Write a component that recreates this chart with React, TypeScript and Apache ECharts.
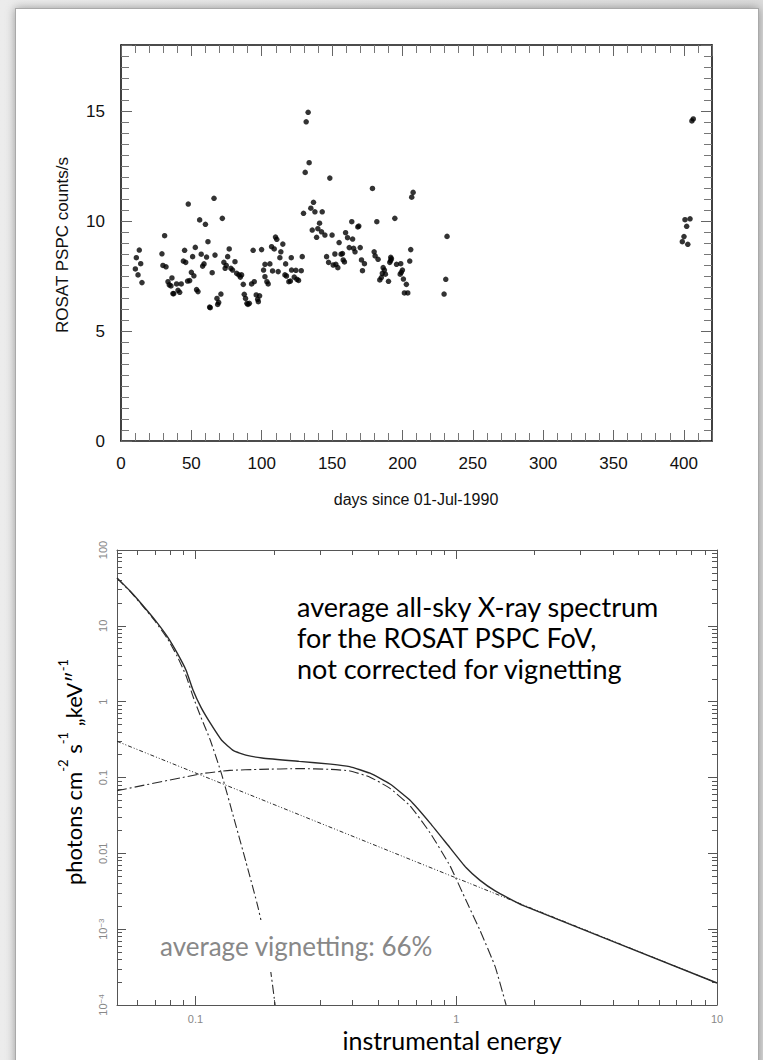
import React, { useEffect, useRef } from "react";
import * as echarts from "echarts";

// ROSAT PSPC light curve: day number since 01-Jul-1990 and count rate
const lcDays = [
  10.2, 10.9, 12.1, 13, 14, 14.9, 29.1, 29.8, 31, 32, 33.4, 34.3, 35.5, 36.2, 36.9, 37.5, 39.5, 40.5, 41.7, 42.8,
  44.3, 45.2, 46, 47.3, 47.8, 48.8, 50, 50.9, 51.8, 52.8, 53.7, 54.7, 55.9, 57, 58, 59, 60, 60.8, 61.8, 63,
  63.4, 64.8, 66.1, 66.8, 68.2, 68.7, 69.4, 71, 72, 73.1, 74, 74.8, 75.8, 76.9, 78.1, 79.3, 81, 82.2, 83.8, 84.8,
  85.7, 86.9, 87.6, 88.5, 89.5, 90.2, 91.2, 92.8, 93.9, 94.7, 96.1, 97.1, 97.6, 98.5, 99.9, 101.3, 102.3, 102.3, 103.7, 104.6,
  105.8, 107, 107.7, 108.9, 109.8, 110.7, 111.7, 112.9, 113.6, 115, 116.5, 117, 117.6, 119.3, 120.4, 121, 121.2, 123.1, 124.3, 125,
  126.2, 128.1, 128.8, 129.7, 130.9, 131.6, 133, 133.7, 134.9, 135.9, 136.8, 137.8, 139, 139.9, 141.1, 142.5, 143, 144.9, 146.1, 147.5,
  148.4, 150, 150.8, 152, 152.7, 154.1, 155, 156.4, 157.4, 157.9, 158.8, 159.6, 161, 162.2, 164, 164.6, 165.3, 166.3, 168.3, 169,
  170, 170.9, 171.6, 173, 178.7, 179.9, 180.6, 181.8, 182.7, 183.9, 185, 185.7, 186.3, 187.2, 187.9, 190.1, 191, 191.6, 191.7, 192.2,
  194.6, 195.8, 198.4, 198.8, 199.2, 200, 200.7, 201.4, 202.8, 203.8, 205.2, 205.9, 206.6, 207.6, 229.6, 230.8, 231.7, 398.9, 400.1, 400.8,
  402, 402.8, 404.4, 405.7, 406.7,
];
const lcRates = [
  7.82, 8.33, 7.55, 8.68, 8.06, 7.2, 8.51, 7.98, 9.33, 7.92, 7.24, 7.1, 7.05, 7.41, 6.7, 6.7, 7.14, 6.85, 6.76, 7.14,
  8.18, 8.67, 8.12, 7.27, 10.77, 7.29, 7.67, 8.38, 7.51, 8.8, 6.88, 6.79, 10.05, 8.49, 7.95, 8.05, 9.85, 8.36, 9.06, 6.09,
  6.06, 7.65, 11.03, 8.45, 6.48, 6.21, 6.3, 6.68, 10.12, 8.12, 7.85, 7.98, 8.38, 8.73, 7.85, 7.77, 8.15, 7.62, 7.55, 7.45,
  7.55, 7.12, 6.67, 6.48, 6.26, 6.21, 6.26, 7.14, 8.67, 7.24, 6.64, 6.44, 6.33, 6.6, 8.7, 7.77, 8.03, 7.47, 7.24, 7.14,
  8.05, 8.83, 7.73, 8.73, 9.27, 9.17, 7.7, 8.33, 8.6, 8.95, 7.55, 8.05, 7.5, 7.24, 7.27, 8.33, 7.77, 7.45, 7.76, 7.35,
  7.3, 7.74, 8.38, 10.35, 12.21, 14.51, 14.94, 12.65, 10.58, 9.59, 10.85, 10.42, 9.26, 9.65, 9.9, 9.51, 10.42, 9.36, 8.38, 8.12,
  11.95, 9.36, 8.0, 8.5, 8.03, 7.88, 9.02, 8.49, 8.52, 8.23, 8.14, 9.47, 9.24, 8.79, 9.97, 9.18, 8.76, 8.6, 9.73, 9.77,
  8.79, 8.23, 7.74, 8.06, 11.48, 8.6, 8.41, 9.97, 8.26, 7.32, 7.43, 7.62, 7.88, 7.77, 7.58, 7.26, 8.12, 8.2, 8.35, 8.28,
  10.12, 8.03, 7.58, 8.06, 7.67, 7.77, 7.36, 6.73, 7.12, 6.73, 8.18, 8.7, 11.08, 11.3, 6.68, 7.35, 9.3, 9.06, 9.29, 10.06,
  9.76, 8.94, 10.1, 14.55, 14.64,
];

// Spectrum components (energy in keV, flux in photons cm^-2 s^-1 keV^-1)
const softE = [0.05, 0.056, 0.062, 0.07, 0.078, 0.085, 0.092, 0.098, 0.105, 0.114, 0.126, 0.14, 0.156, 0.174, 0.191, 0.202];
const softF = [42.5, 28.6, 19.2, 11.5, 6.8, 4.0, 2.2, 1.15, 0.62, 0.31, 0.11, 0.03, 0.0078, 0.0019, 0.00042, 0.0001];

const humpE = [0.05, 0.107, 0.1356, 0.177, 0.252, 0.328, 0.391, 0.467, 0.557, 0.665, 0.794, 0.947, 1.09, 1.234, 1.41, 1.553];
const humpF = [0.067, 0.113, 0.124, 0.128, 0.131, 0.128, 0.122, 0.101, 0.0718, 0.0423, 0.0186, 0.0068, 0.0024, 0.00096, 0.00032, 0.0001];

const plawE = [0.05, 10];
const plawF = [0.3, 0.000195];

const totalE = [0.05, 0.056, 0.062, 0.07, 0.078, 0.085, 0.092, 0.098, 0.105, 0.114, 0.126, 0.14, 0.156, 0.18, 0.25, 0.33, 0.39, 0.467, 0.557, 0.665, 0.794, 0.947, 1.09, 1.234, 1.41, 1.8, 10];
const totalF = [42.9, 29.0, 19.6, 11.9, 7.2, 4.4, 2.6, 1.4, 0.84, 0.52, 0.31, 0.226, 0.197, 0.181, 0.163, 0.15, 0.139, 0.114, 0.082, 0.05, 0.025, 0.0118, 0.0065, 0.0044, 0.0032, 0.00206, 0.000195];

// Axis ticks and labels
const energyRange = [0.05, 10];
const fluxRange = [1e-4, 100];
const energyTicks = [0.1, 1, 10];
const energyLabels = ["0.1", "1", "10"];
const fluxTicks = [1e-4, 1e-3, 0.01, 0.1, 1, 10, 100];
const fluxLabels = ["10{s|−4}", "10{s|−3}", "0.01", "0.1", "1", "10", "100"];
const minorMultipliers = [2, 3, 4, 5, 6, 7, 8, 9];

const lg = (v: number) => Math.log10(v);

function minorLogTicks(lo: number, hi: number): number[] {
  const out: number[] = [];
  for (let n = Math.floor(lg(lo)) - 1; n <= Math.ceil(lg(hi)); n++) {
    for (const k of minorMultipliers) {
      const v = k * Math.pow(10, n);
      if (v > lo * 1.0001 && v < hi * 0.9999) out.push(lg(v));
    }
  }
  return out;
}

const TXT = "#111";
const SANS = '"Liberation Sans", Arial, sans-serif';
const CAL = 'Lato, "Open Sans", sans-serif';

export default function App() {
  const ref = useRef<HTMLDivElement>(null);

  useEffect(() => {
    if (!ref.current) return;
    const chart = echarts.init(ref.current, undefined, { renderer: "svg" });

    const lcAxisX = (position: "bottom" | "top", labels: boolean) => ({
      type: "value",
      gridIndex: 0,
      position,
      min: 0,
      max: 420,
      interval: 50,
      axisLine: { show: true, onZero: false, lineStyle: { color: "#111", width: 1.6 } },
      axisTick: { show: true, inside: true, length: 11, lineStyle: { color: "#666", width: 1 } },
      minorTick: { show: true, splitNumber: 5, length: 8, lineStyle: { color: "#777", width: 1 } },
      axisLabel: { show: labels, showMaxLabel: false, margin: 14, fontSize: 17, color: TXT, fontFamily: SANS },
      splitLine: { show: false },
      minorSplitLine: { show: false },
    });
    const lcAxisY = (position: "left" | "right", labels: boolean) => ({
      type: "value",
      gridIndex: 0,
      position,
      min: 0,
      max: 18,
      interval: 5,
      axisLine: { show: true, onZero: false, lineStyle: { color: "#111", width: 1.6 } },
      axisTick: { show: true, inside: true, length: 11, lineStyle: { color: "#666", width: 1 } },
      minorTick: { show: true, splitNumber: 10, length: 8, lineStyle: { color: "#777", width: 1 } },
      axisLabel: { show: labels, showMaxLabel: false, margin: 16, fontSize: 17, color: TXT, fontFamily: SANS },
      splitLine: { show: false },
      minorSplitLine: { show: false },
    });

    const eMin = lg(energyRange[0]);
    const eMax = lg(energyRange[1]);
    const fMin = lg(fluxRange[0]);
    const fMax = lg(fluxRange[1]);
    const eMajor = energyTicks.map(lg);
    const fMajor = fluxTicks.map(lg);
    const eMinor = minorLogTicks(energyRange[0], energyRange[1]);
    const fMinor = minorLogTicks(fluxRange[0], fluxRange[1]);
    const specLine = { color: "#555", width: 1 };

    const specAxisX = (position: "bottom" | "top", major: boolean, labels: boolean) => ({
      type: "value",
      gridIndex: 1,
      position,
      min: eMin,
      max: eMax,
      axisLine: { show: major, onZero: false, lineStyle: specLine },
      axisTick: {
        show: true,
        inside: true,
        length: major ? 9 : 5,
        customValues: major ? eMajor : eMinor,
        lineStyle: specLine,
      },
      axisLabel: {
        show: labels,
        customValues: eMajor,
        margin: 8,
        fontSize: 11,
        color: "#888",
        fontFamily: SANS,
        formatter: (v: number) => {
          const i = eMajor.findIndex((t) => Math.abs(t - v) < 1e-6);
          return i >= 0 ? energyLabels[i] : "";
        },
      },
      splitLine: { show: false },
    });
    const specAxisY = (position: "left" | "right", major: boolean, labels: boolean) => ({
      type: "value",
      gridIndex: 1,
      position,
      min: fMin,
      max: fMax,
      axisLine: { show: major, onZero: false, lineStyle: specLine },
      axisTick: {
        show: true,
        inside: true,
        length: major ? 9 : 5,
        customValues: major ? fMajor : fMinor,
        lineStyle: specLine,
      },
      axisLabel: {
        show: labels,
        customValues: fMajor,
        rotate: 90,
        margin: 9,
        fontSize: 11,
        color: "#888",
        fontFamily: SANS,
        formatter: (v: number) => {
          const i = fMajor.findIndex((t) => Math.abs(t - v) < 1e-6);
          return i >= 0 ? fluxLabels[i] : "";
        },
        rich: {
          s: { fontSize: 8, verticalAlign: "top", color: "#888", fontFamily: SANS },
        },
      },
      splitLine: { show: false },
    });

    const toLog = (E: number[], F: number[]) => E.map((e, i) => [lg(e), lg(F[i])]);
    const specSeries = (data: number[][], type: any, width: number, smooth: number | boolean) => ({
      type: "line",
      xAxisIndex: 2,
      yAxisIndex: 2,
      data,
      showSymbol: false,
      smooth,
      lineStyle: { color: "#2a2a2a", width, type },
      z: 3,
    });

    chart.setOption({
      animation: false,
      grid: [
        { left: 121, top: 45, width: 591, height: 396, outerBoundsMode: "none" },
        { left: 117, top: 550, width: 600, height: 455, outerBoundsMode: "none" },
      ],
      xAxis: [
        lcAxisX("bottom", true),
        lcAxisX("top", false),
        specAxisX("bottom", true, true),
        specAxisX("bottom", false, false),
        specAxisX("top", true, false),
        specAxisX("top", false, false),
      ],
      yAxis: [
        lcAxisY("left", true),
        lcAxisY("right", false),
        specAxisY("left", true, true),
        specAxisY("left", false, false),
        specAxisY("right", true, false),
        specAxisY("right", false, false),
      ],
      series: [
        {
          type: "scatter",
          xAxisIndex: 0,
          yAxisIndex: 0,
          data: lcDays.map((d, i) => [d, lcRates[i]]),
          symbol: "circle",
          symbolSize: 5.5,
          itemStyle: { color: "#000" },
        },
        specSeries(toLog(softE, softF), [9, 3, 2, 3], 1.1, 0.15),
        specSeries(toLog(humpE, humpF), [10, 3, 2, 3], 1.1, 0.15),
        specSeries(toLog(plawE, plawF), [4, 2, 1, 2, 1, 2], 1, false),
        specSeries(toLog(totalE, totalF), "solid", 1.4, 0.15),
      ],
      graphic: [
        {
          type: "text",
          x: 416,
          y: 499,
          style: { text: "days since 01-Jul-1990", font: `16px ${SANS}`, fill: TXT, align: "center", verticalAlign: "middle" },
        },
        {
          type: "text",
          x: 62,
          y: 245,
          rotation: Math.PI / 2,
          style: { text: "ROSAT PSPC counts/s", font: `17px ${SANS}`, fill: TXT, align: "center", verticalAlign: "middle" },
        },
        {
          type: "text",
          x: 297,
          y: 637,
          z: 100,
          style: {
            text: "average all-sky X-ray spectrum\nfor the ROSAT PSPC FoV,\nnot corrected for vignetting",
            font: `27px ${CAL}`,
            fill: "#000",
            lineHeight: 31,
            align: "left",
            verticalAlign: "middle",
          },
        },
        {
          type: "text",
          x: 156,
          y: 946,
          z: 100,
          style: {
            text: "average vignetting: 66%",
            font: `26px ${CAL}`,
            fill: "#888",
            backgroundColor: "#fff",
            padding: [13, 4],
            align: "left",
            verticalAlign: "middle",
          },
        },
        {
          type: "text",
          x: 452,
          y: 1040,
          z: 100,
          style: { text: "instrumental energy", font: `25px ${CAL}`, fill: "#000", align: "center", verticalAlign: "middle" },
        },
        {
          type: "text",
          x: 70,
          y: 772,
          rotation: Math.PI / 2,
          z: 100,
          style: {
            text: "{n|photons cm}{s|-2}{n| s}{s|-1}{n| „keV″}{s|-1}",
            align: "center",
            verticalAlign: "middle",
            rich: {
              n: { fontSize: 22, fontFamily: CAL, fill: "#000", lineHeight: 28, verticalAlign: "bottom" },
              s: { fontSize: 13, fontFamily: CAL, fill: "#000", lineHeight: 28, verticalAlign: "top" },
            },
          },
        },
      ],
    });

    return () => chart.dispose();
  }, []);

  return (
    <div
      style={{
        position: "fixed",
        left: 0,
        top: 0,
        width: 763,
        height: 1060,
        overflow: "hidden",
        background: "linear-gradient(90deg, #ececec 0%, #dcdcdc 100%)",
      }}
    >
      <div
        style={{
          position: "absolute",
          left: 15,
          top: 8,
          width: 742,
          height: 1080,
          background: "#fff",
          border: "1px solid #a9a9a9",
          boxShadow: "0 0 9px rgba(0,0,0,0.35)",
        }}
      />
      <div ref={ref} style={{ position: "absolute", left: 0, top: 0, width: 763, height: 1060 }} />
    </div>
  );
}
